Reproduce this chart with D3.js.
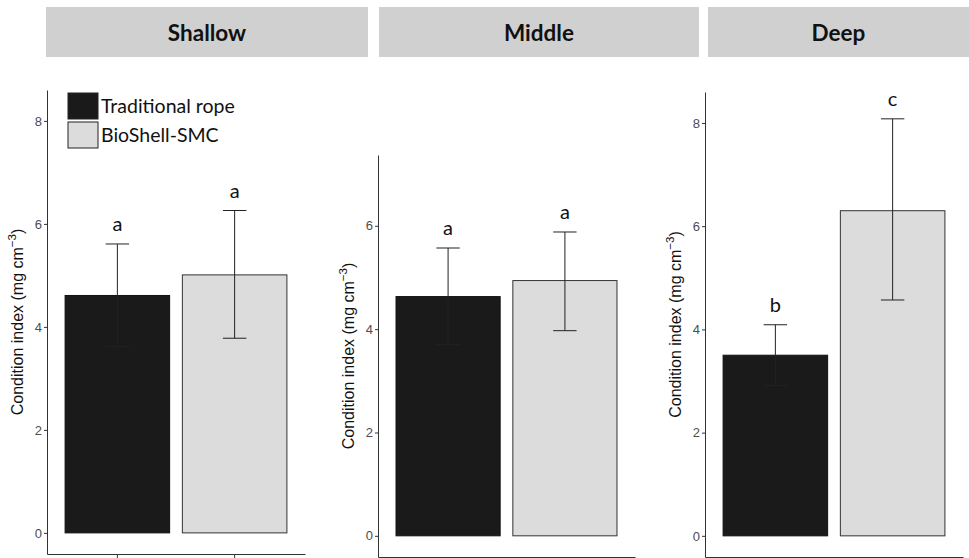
<!DOCTYPE html>
<meta charset="utf-8">
<style>
  body { margin: 0; padding: 0; background: white; }
  svg { display: block; background: white; }
  .tick text { fill: #4d4d4d; font-family: "Liberation Sans", Arial, sans-serif; font-size: 13px; }
  .domain, .tick line { stroke: #333; }
</style>
<script src="https://d3js.org/d3.v7.min.js"></script>
<svg id="vis"></svg>
<script>

var width = 969, height = 558;

// data
const depths = ["Shallow", "Middle", "Deep"];
const groups = ["Traditional rope", "BioShell-SMC"];
const means = [[4.61, 5.01], [4.63, 4.94], [3.50, 6.30]];
const upper = [[5.61, 6.26], [5.57, 5.88], [4.09, 8.08]];
const lower = [[3.62, 3.78], [3.70, 3.97], [2.91, 4.57]];
const letters = [["a", "a"], ["a", "a"], ["b", "c"]];
const yMax = [8.6, 7.37, 8.6];
const yTicks = [[0, 2, 4, 6, 8], [0, 2, 4, 6], [0, 2, 4, 6, 8]];
const fills = ["#1a1a1a", "#dcdcdc"];
const strokes = ["#111", "#333"];

// panel placement
var layout = [
  {x0: 47, x1: 305, top: 90, bottom: 554, hx0: 46, hx1: 368},
  {x0: 378, x1: 635, top: 155, bottom: 557, hx0: 379, hx1: 699},
  {x0: 705, x1: 963, top: 92, bottom: 557, hx0: 708, hx1: 969}
];

var svg = d3.select("svg").attr("width", width).attr("height", height);

depths.forEach(function(depth, p) {
  var L = layout[p];

  // header strip
  svg.append("rect")
    .attr("x", L.hx0).attr("y", 7)
    .attr("width", L.hx1 - L.hx0).attr("height", 50)
    .attr("fill", "#d0d0d0");
  svg.append("text")
    .attr("x", (L.hx0 + L.hx1) / 2).attr("y", 41)
    .attr("text-anchor", "middle")
    .attr("font-family", "Lato, 'Open Sans', sans-serif")
    .attr("font-weight", "bold")
    .attr("font-size", 22.5)
    .attr("fill", "#111")
    .text(depth);

  var x = d3.scaleBand().domain(groups).range([L.x0, L.x1])
    .paddingInner(0.1).paddingOuter(0.15);
  var y = d3.scaleLinear().domain([-0.41, yMax[p]]).range([L.bottom, L.top]);

  var g = svg.append("g");

  var rows = groups.map(function(k, i) {
    return {key: k, i: i, mean: means[p][i], lo: lower[p][i], hi: upper[p][i], letter: letters[p][i]};
  });

  g.selectAll("rect.bar").data(rows).enter().append("rect")
    .attr("class", "bar")
    .attr("x", d => x(d.key) + 0.5)
    .attr("width", x.bandwidth() - 1)
    .attr("y", d => y(d.mean))
    .attr("height", d => y(0) - y(d.mean))
    .attr("fill", d => fills[d.i])
    .attr("stroke", d => strokes[d.i])
    .attr("stroke-width", 1);

  // error bars
  var cap = x.step() * 0.1;
  var eb = g.selectAll("g.err").data(rows).enter().append("g")
    .attr("class", "err")
    .attr("stroke", "#222").attr("stroke-width", 1);
  eb.append("line")
    .attr("x1", d => x(d.key) + x.bandwidth() / 2)
    .attr("x2", d => x(d.key) + x.bandwidth() / 2)
    .attr("y1", d => y(d.lo)).attr("y2", d => y(d.hi));
  eb.append("line")
    .attr("x1", d => x(d.key) + x.bandwidth() / 2 - cap)
    .attr("x2", d => x(d.key) + x.bandwidth() / 2 + cap)
    .attr("y1", d => y(d.hi)).attr("y2", d => y(d.hi));
  eb.append("line")
    .attr("x1", d => x(d.key) + x.bandwidth() / 2 - cap)
    .attr("x2", d => x(d.key) + x.bandwidth() / 2 + cap)
    .attr("y1", d => y(d.lo)).attr("y2", d => y(d.lo));

  // significance letters
  g.selectAll("text.sig").data(rows).enter().append("text")
    .attr("class", "sig")
    .attr("x", d => x(d.key) + x.bandwidth() / 2)
    .attr("y", d => y(d.hi) - 13)
    .attr("text-anchor", "middle")
    .attr("font-family", "Lato, 'Open Sans', sans-serif")
    .attr("font-size", 20)
    .attr("fill", "#111")
    .text(d => d.letter);

  // axes
  svg.append("g")
    .attr("transform", "translate(" + L.x0 + ",0)")
    .call(d3.axisLeft(y).tickValues(yTicks[p]).tickSize(3).tickSizeOuter(0).tickPadding(2));
  svg.append("g")
    .attr("transform", "translate(0," + L.bottom + ")")
    .call(d3.axisBottom(x).tickSize(4).tickSizeOuter(0).tickFormat(""));

  // y title
  var t = svg.append("text")
    .attr("transform", "translate(" + (L.x0 - 24) + "," + ((L.top + L.bottom) / 2) + ") rotate(-90)")
    .attr("text-anchor", "middle")
    .attr("font-family", "'Liberation Sans', Arial, sans-serif")
    .attr("font-size", 16)
    .attr("fill", "#111");
  t.append("tspan").text("Condition index (mg cm");
  t.append("tspan").attr("dy", -7).attr("font-size", 11.5).text("\u22123");
  t.append("tspan").attr("dy", 7).text(")");
});

// legend
var lg = svg.append("g").attr("transform", "translate(68,93)");
groups.forEach(function(k, i) {
  lg.append("rect")
    .attr("x", 0).attr("y", i * 29)
    .attr("width", 30).attr("height", 26)
    .attr("fill", fills[i]).attr("stroke", "#222").attr("stroke-width", 1);
  lg.append("text")
    .attr("x", 33).attr("y", i * 29 + 20)
    .attr("font-family", "Lato, 'Open Sans', sans-serif")
    .attr("font-size", 19.5)
    .attr("fill", "#111")
    .text(k);
});

</script>
